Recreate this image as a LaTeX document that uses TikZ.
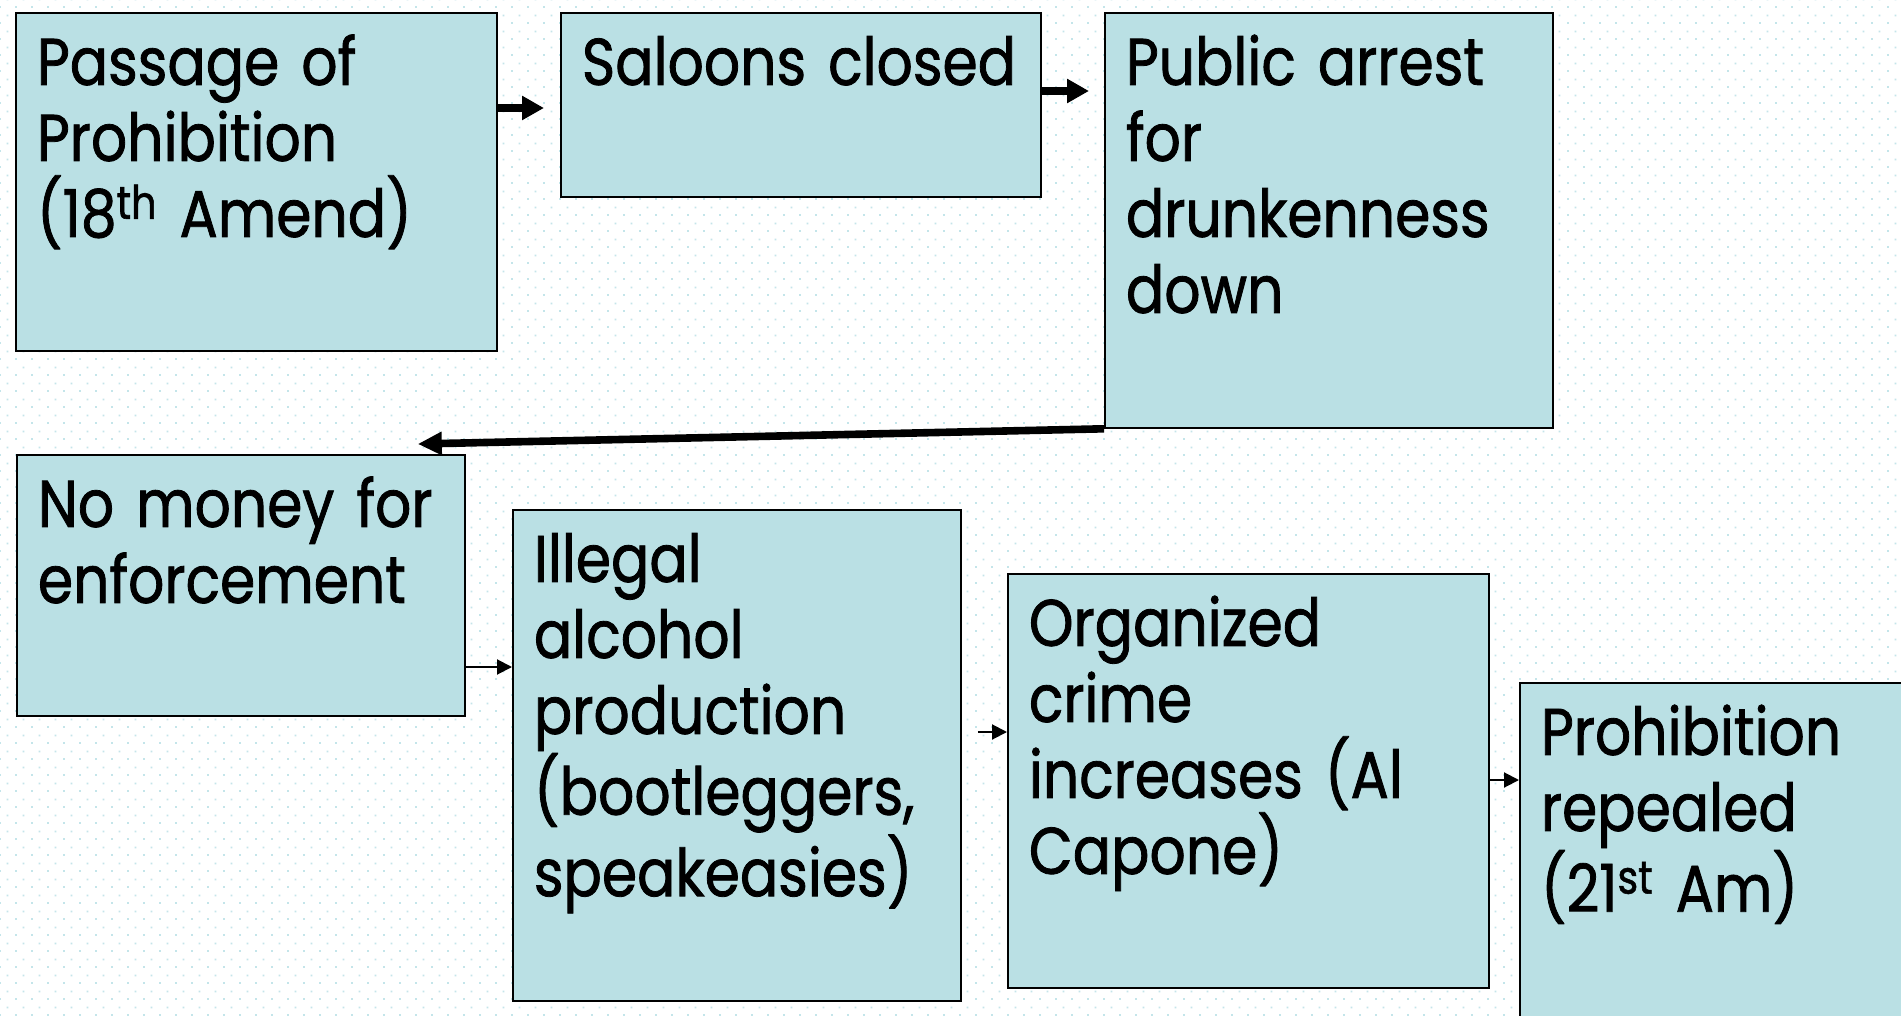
\documentclass[tikz,border=0pt]{standalone}
\usepackage{fontspec}
\setmainfont{Poppins}[FakeStretch=0.86,FakeBold=1.2]
\usetikzlibrary{arrows.meta,patterns.meta}

\definecolor{boxfill}{RGB}{186,224,228}
\definecolor{dotcol}{RGB}{196,229,234}

\tikzdeclarepattern{
  name=bgdots,
  type=uncolored,
  bounding box={(0pt,0pt) and (8pt,8pt)},
  tile size={(8pt,8pt)},
  code={
    \fill (0pt,0pt) rectangle (1pt,1pt);
    \fill (4pt,4pt) rectangle (5pt,5pt);
  }
}

\tikzset{
  evt/.style={draw=black, line width=0.9pt, fill=boxfill, anchor=north west,
    align=left, inner xsep=10.5pt, inner ysep=0pt, text height=36pt,
    font=\fontsize{33pt}{38pt}\selectfont},
  bigarrow/.style={line width=3.8pt, -{Triangle[length=11pt,width=11.5pt]}},
  thinarrow/.style={line width=1pt, -{Triangle[length=7.5pt,width=7.5pt]}}
}

\begin{document}
\begin{tikzpicture}[x=1pt,y=-1pt]
      \useasboundingbox (0,0) rectangle (950.5,508);
      \clip (0,0) rectangle (950.5,508);
      \fill[white] (0,0) rectangle (950.5,508);
      \fill[pattern=bgdots, pattern color=dotcol] (0,0) rectangle (950.5,508);

      \node[evt, text width=219.5pt, text depth=133pt] (pass) at (7.5,6)
        {Passage of\\Prohibition\\(18\textsuperscript{th} Amend)};
      \node[evt, text width=219pt, text depth=56pt] (sal) at (280,6)
        {Saloons closed};
      \node[evt, text width=203pt, text depth=171.5pt] (pub) at (552,6)
        {Public arrest\\for\\drunkenness\\down};
      \node[evt, text width=203pt, text depth=94.5pt] (nomoney) at (8,227)
        {No money for\\enforcement};
      \node[evt, text width=203pt, text depth=209.5pt] (ill) at (256,254.5)
        {Illegal\\alcohol\\production\\(bootleggers,\\speakeasies)};
      \node[evt, text width=219.5pt, text depth=171pt] (org) at (503.5,286.5)
        {Organized\\crime\\increases (Al\\Capone)};
      \node[evt, text width=219pt, text depth=171pt] (rep) at (759.5,341)
        {Prohibition\\repealed\\(21\textsuperscript{st} Am)};

      \coordinate (a1) at ([yshift=-48pt]pass.north east);
      \coordinate (a2) at ([yshift=-39.5pt]sal.north east);
      \coordinate (a3) at ([shift={(-24pt,5pt)}]nomoney.north east);
      \coordinate (a4) at ([yshift=-106.5pt]nomoney.north east);
      \coordinate (a5) at ([yshift=-79.5pt]org.north west);
      \coordinate (a6) at ([yshift=-49pt]rep.north west);

      \draw[bigarrow, shorten >=8pt] (a1) -- (a1 -| sal.west);
      \draw[bigarrow, shorten >=7.5pt] (a2) -- (a2 -| pub.west);
      \draw[bigarrow, -{Triangle[length=12pt,width=11pt]}] (pub.south west) -- (a3);
      \draw[thinarrow] (a4) -- (a4 -| ill.west);
      \draw[thinarrow, shorten <=8pt] (a5 -| ill.east) -- (a5);
      \draw[thinarrow] (a6 -| org.east) -- (a6);
    \end{tikzpicture}
\end{document}
